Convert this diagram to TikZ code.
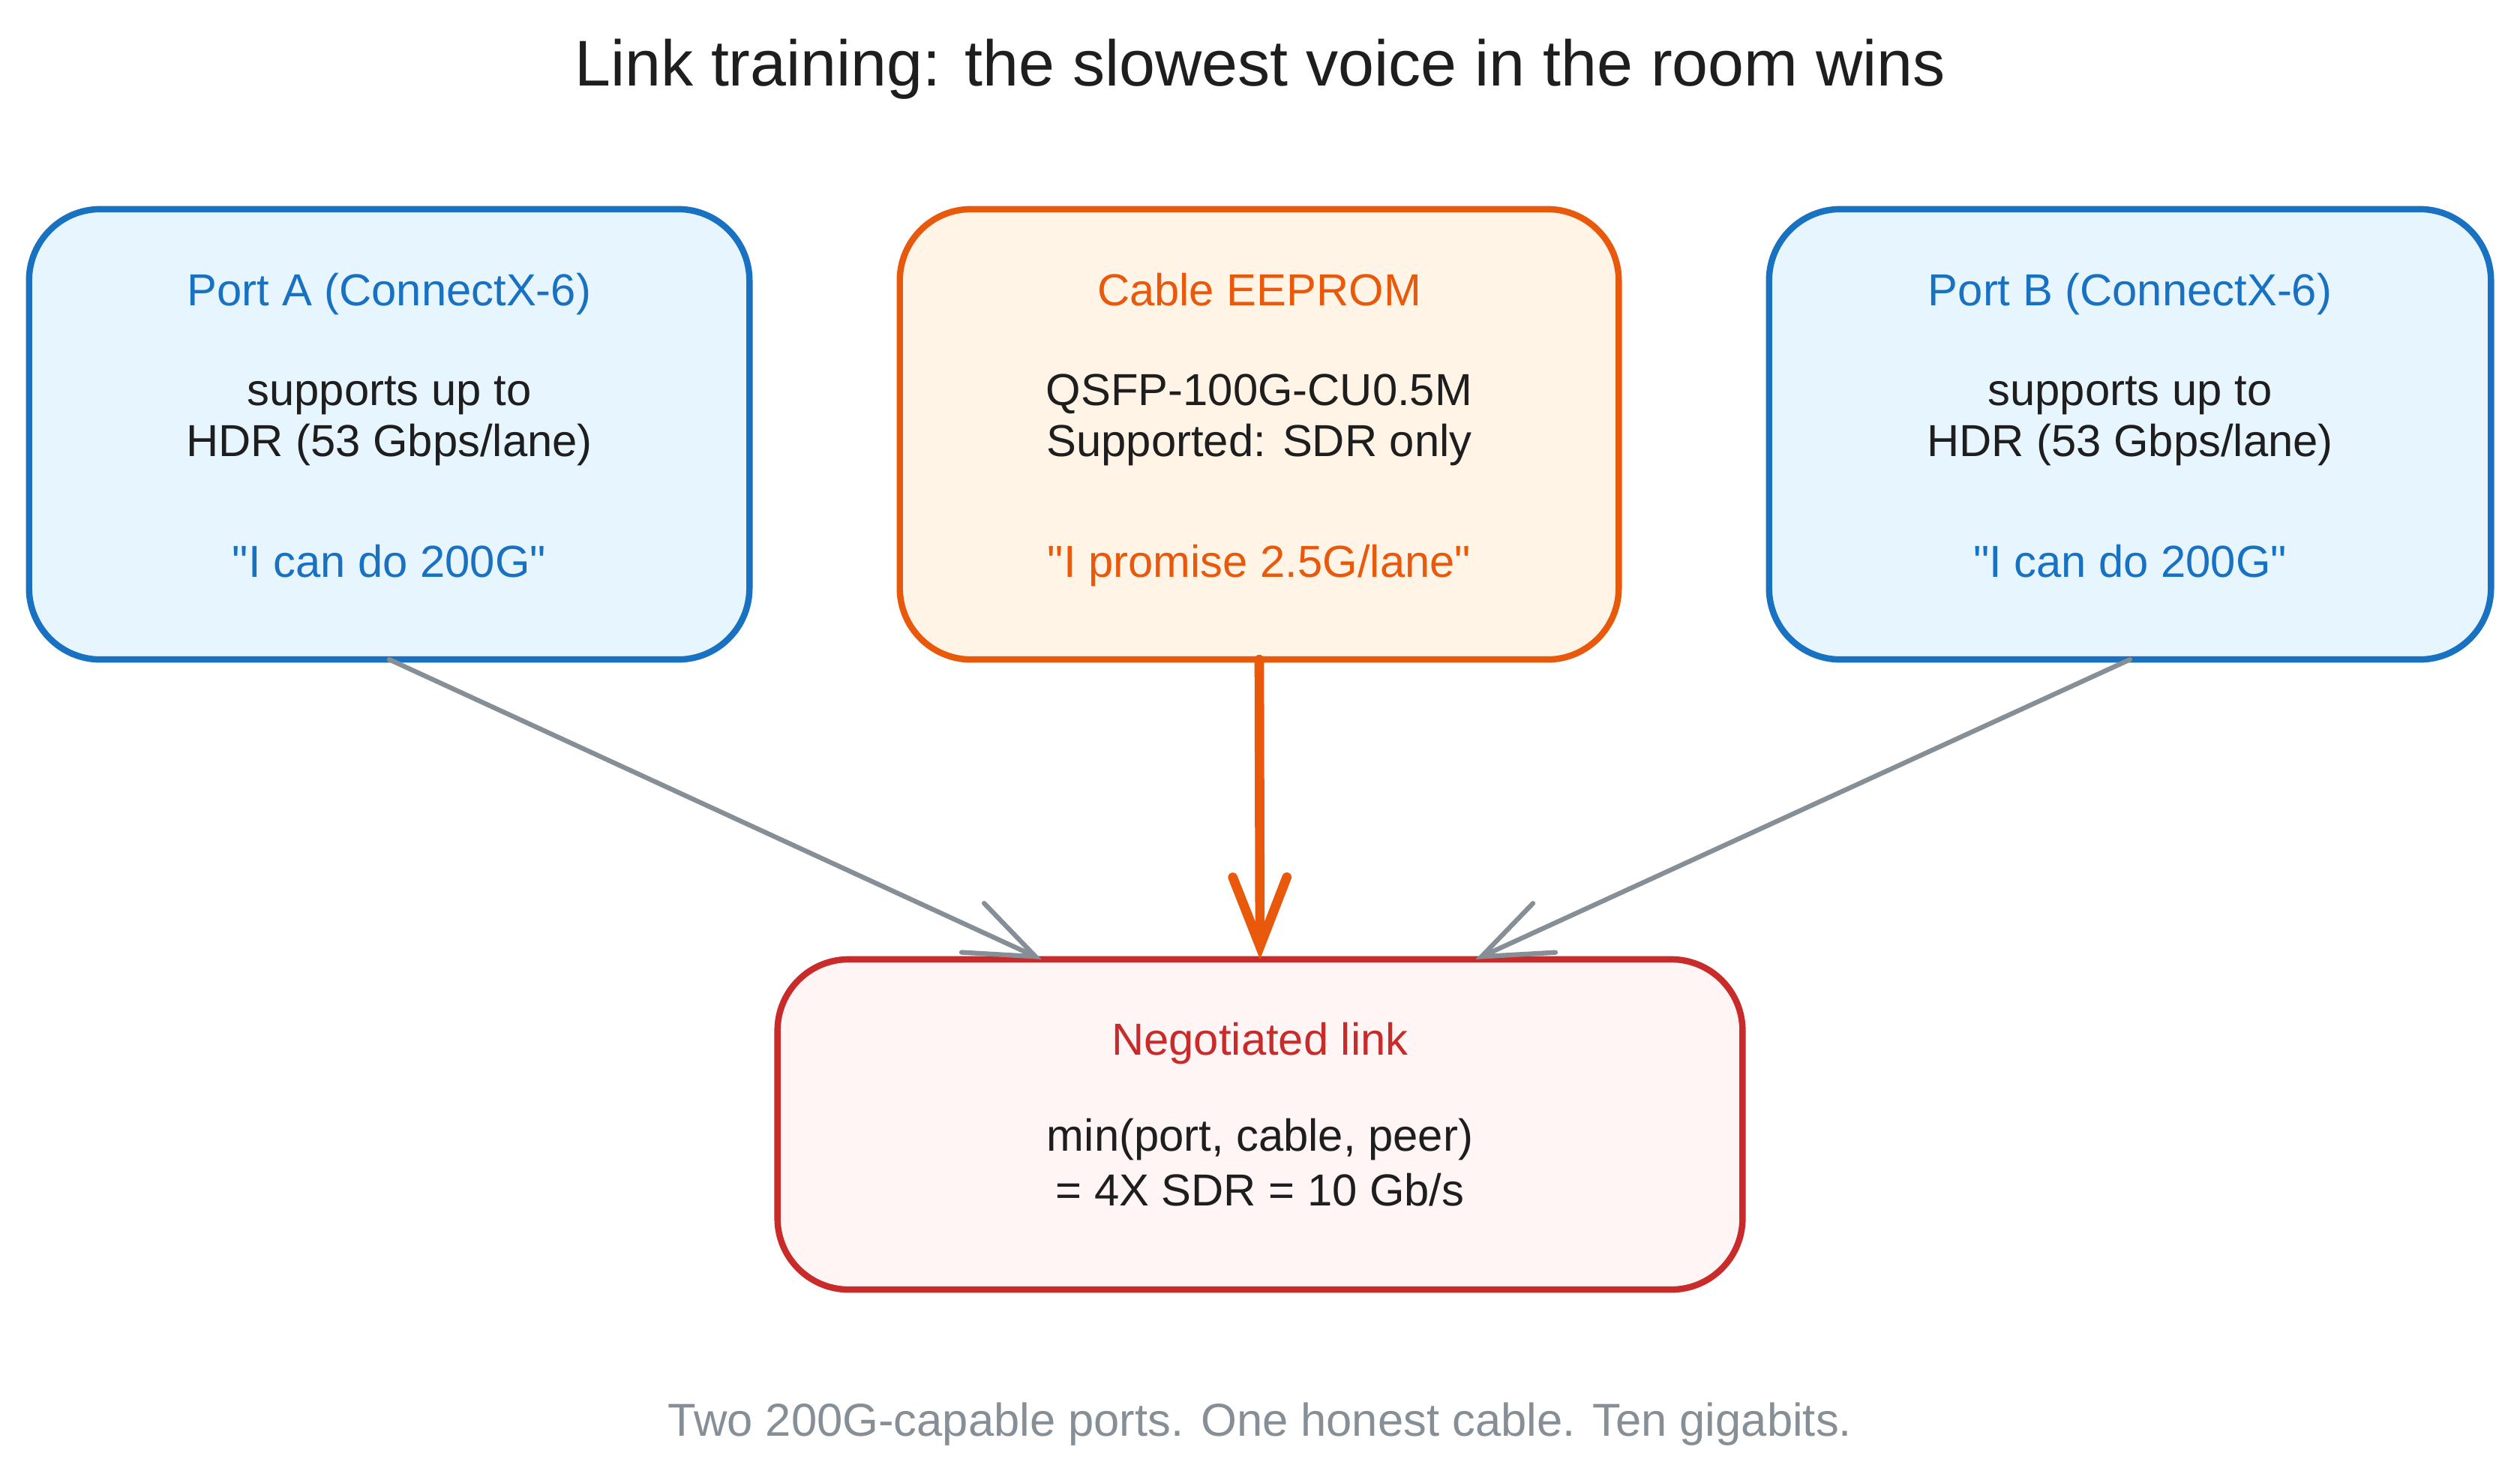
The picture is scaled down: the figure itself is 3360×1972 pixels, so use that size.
\documentclass[tikz,border=0pt]{standalone}
\usepackage{fontspec}
\setmainfont{Liberation Sans}[Ligatures=TeXOff]
\usetikzlibrary{arrows.meta,calc}
\definecolor{inkc}{HTML}{1E1E1E}
\definecolor{bluec}{HTML}{1971C2}
\definecolor{bluef}{HTML}{E7F5FF}
\definecolor{orangec}{HTML}{E8590C}
\definecolor{orangef}{HTML}{FFF4E6}
\definecolor{redc}{HTML}{C92A2A}
\definecolor{redf}{HTML}{FFF5F5}
\definecolor{grayc}{HTML}{868E96}
\tikzset{
  box/.style={draw, rectangle, rounded corners=0.95cm, line width=2.4pt, inner sep=0pt, outer sep=0pt, line join=round},
  bluebox/.style={box, draw=bluec, fill=bluef, minimum width=9.6cm, minimum height=6cm},
  orangebox/.style={box, draw=orangec, fill=orangef, minimum width=9.58cm, minimum height=6cm},
  redbox/.style={box, draw=redc, fill=redf, minimum width=12.86cm, minimum height=4.4cm},
  txt/.style={anchor=base, inner sep=0pt, font=\fontsize{17}{20}\selectfont, text=inkc},
  graylink/.style={draw=grayc, line width=1.8pt, line cap=round, -{Straight Barb[length=0.92cm, width=0.72cm, line cap=round]}},
  orangelink/.style={draw=orangec, line width=3.6pt, line cap=round, -{Straight Barb[length=0.92cm, width=0.72cm, line cap=round]}},
}
\begin{document}
\begin{tikzpicture}[x=0.01cm, y=-0.01cm]
\useasboundingbox (0,0) rectangle (3360,1972);
\fill[white] (0,0) rectangle (3360,1972);

% title
\node[txt, font=\fontsize{24.5}{29}\selectfont] (title) at (1680,114) {Link training: the slowest voice in the room wins};

% boxes
\node[bluebox] (pa) at (519,579) {};
\node[orangebox] (cb) at (1679,579) {};
\node[bluebox, minimum width=9.62cm] (pb) at (2840,579) {};
\node[redbox] (neg) at (1680,1499) {};

% arrows
\draw[graylink] (pa.south) -- ($(neg.north west)+(352,0)$);
\draw[orangelink] (cb.south) -- (neg.north);
\draw[graylink] (pb.south) -- ($(neg.north east)+(-356,0)$);

% Port A text
\node[txt, text=bluec] (pat) at (519,407) {Port A (ConnectX-6)};
\node[txt] (pa1) at (519,540) {supports up to};
\node[txt] (pa2) at (519,608) {HDR (53 Gbps/lane)};
\node[txt, text=bluec] (paq) at (519,769) {"I can do 200G"};

% Cable text
\node[txt, text=orangec] (cbt) at (1679,407) {Cable EEPROM};
\node[txt] (cb1) at (1679,540) {QSFP-100G-CU0.5M};
\node[txt] (cb2) at (1679,608) {Supported: SDR only};
\node[txt, text=orangec] (cbq) at (1679,769) {"I promise 2.5G/lane"};

% Port B text
\node[txt, text=bluec] (pbt) at (2840,407) {Port B (ConnectX-6)};
\node[txt] (pb1) at (2840,540) {supports up to};
\node[txt] (pb2) at (2840,608) {HDR (53 Gbps/lane)};
\node[txt, text=bluec] (pbq) at (2840,769) {"I can do 200G"};

% Negotiated text
\node[txt, text=redc] (negt) at (1680,1406) {Negotiated link};
\node[txt] (neg1) at (1680,1534) {min(port, cable, peer)};
\node[txt] (neg2) at (1680,1607) {= 4X SDR = 10 Gb/s};

% footer
\node[txt, text=grayc, font=\fontsize{17.5}{21}\selectfont] (foot) at (1680,1914) {Two 200G-capable ports. One honest cable. Ten gigabits.};
\end{tikzpicture}
\end{document}
